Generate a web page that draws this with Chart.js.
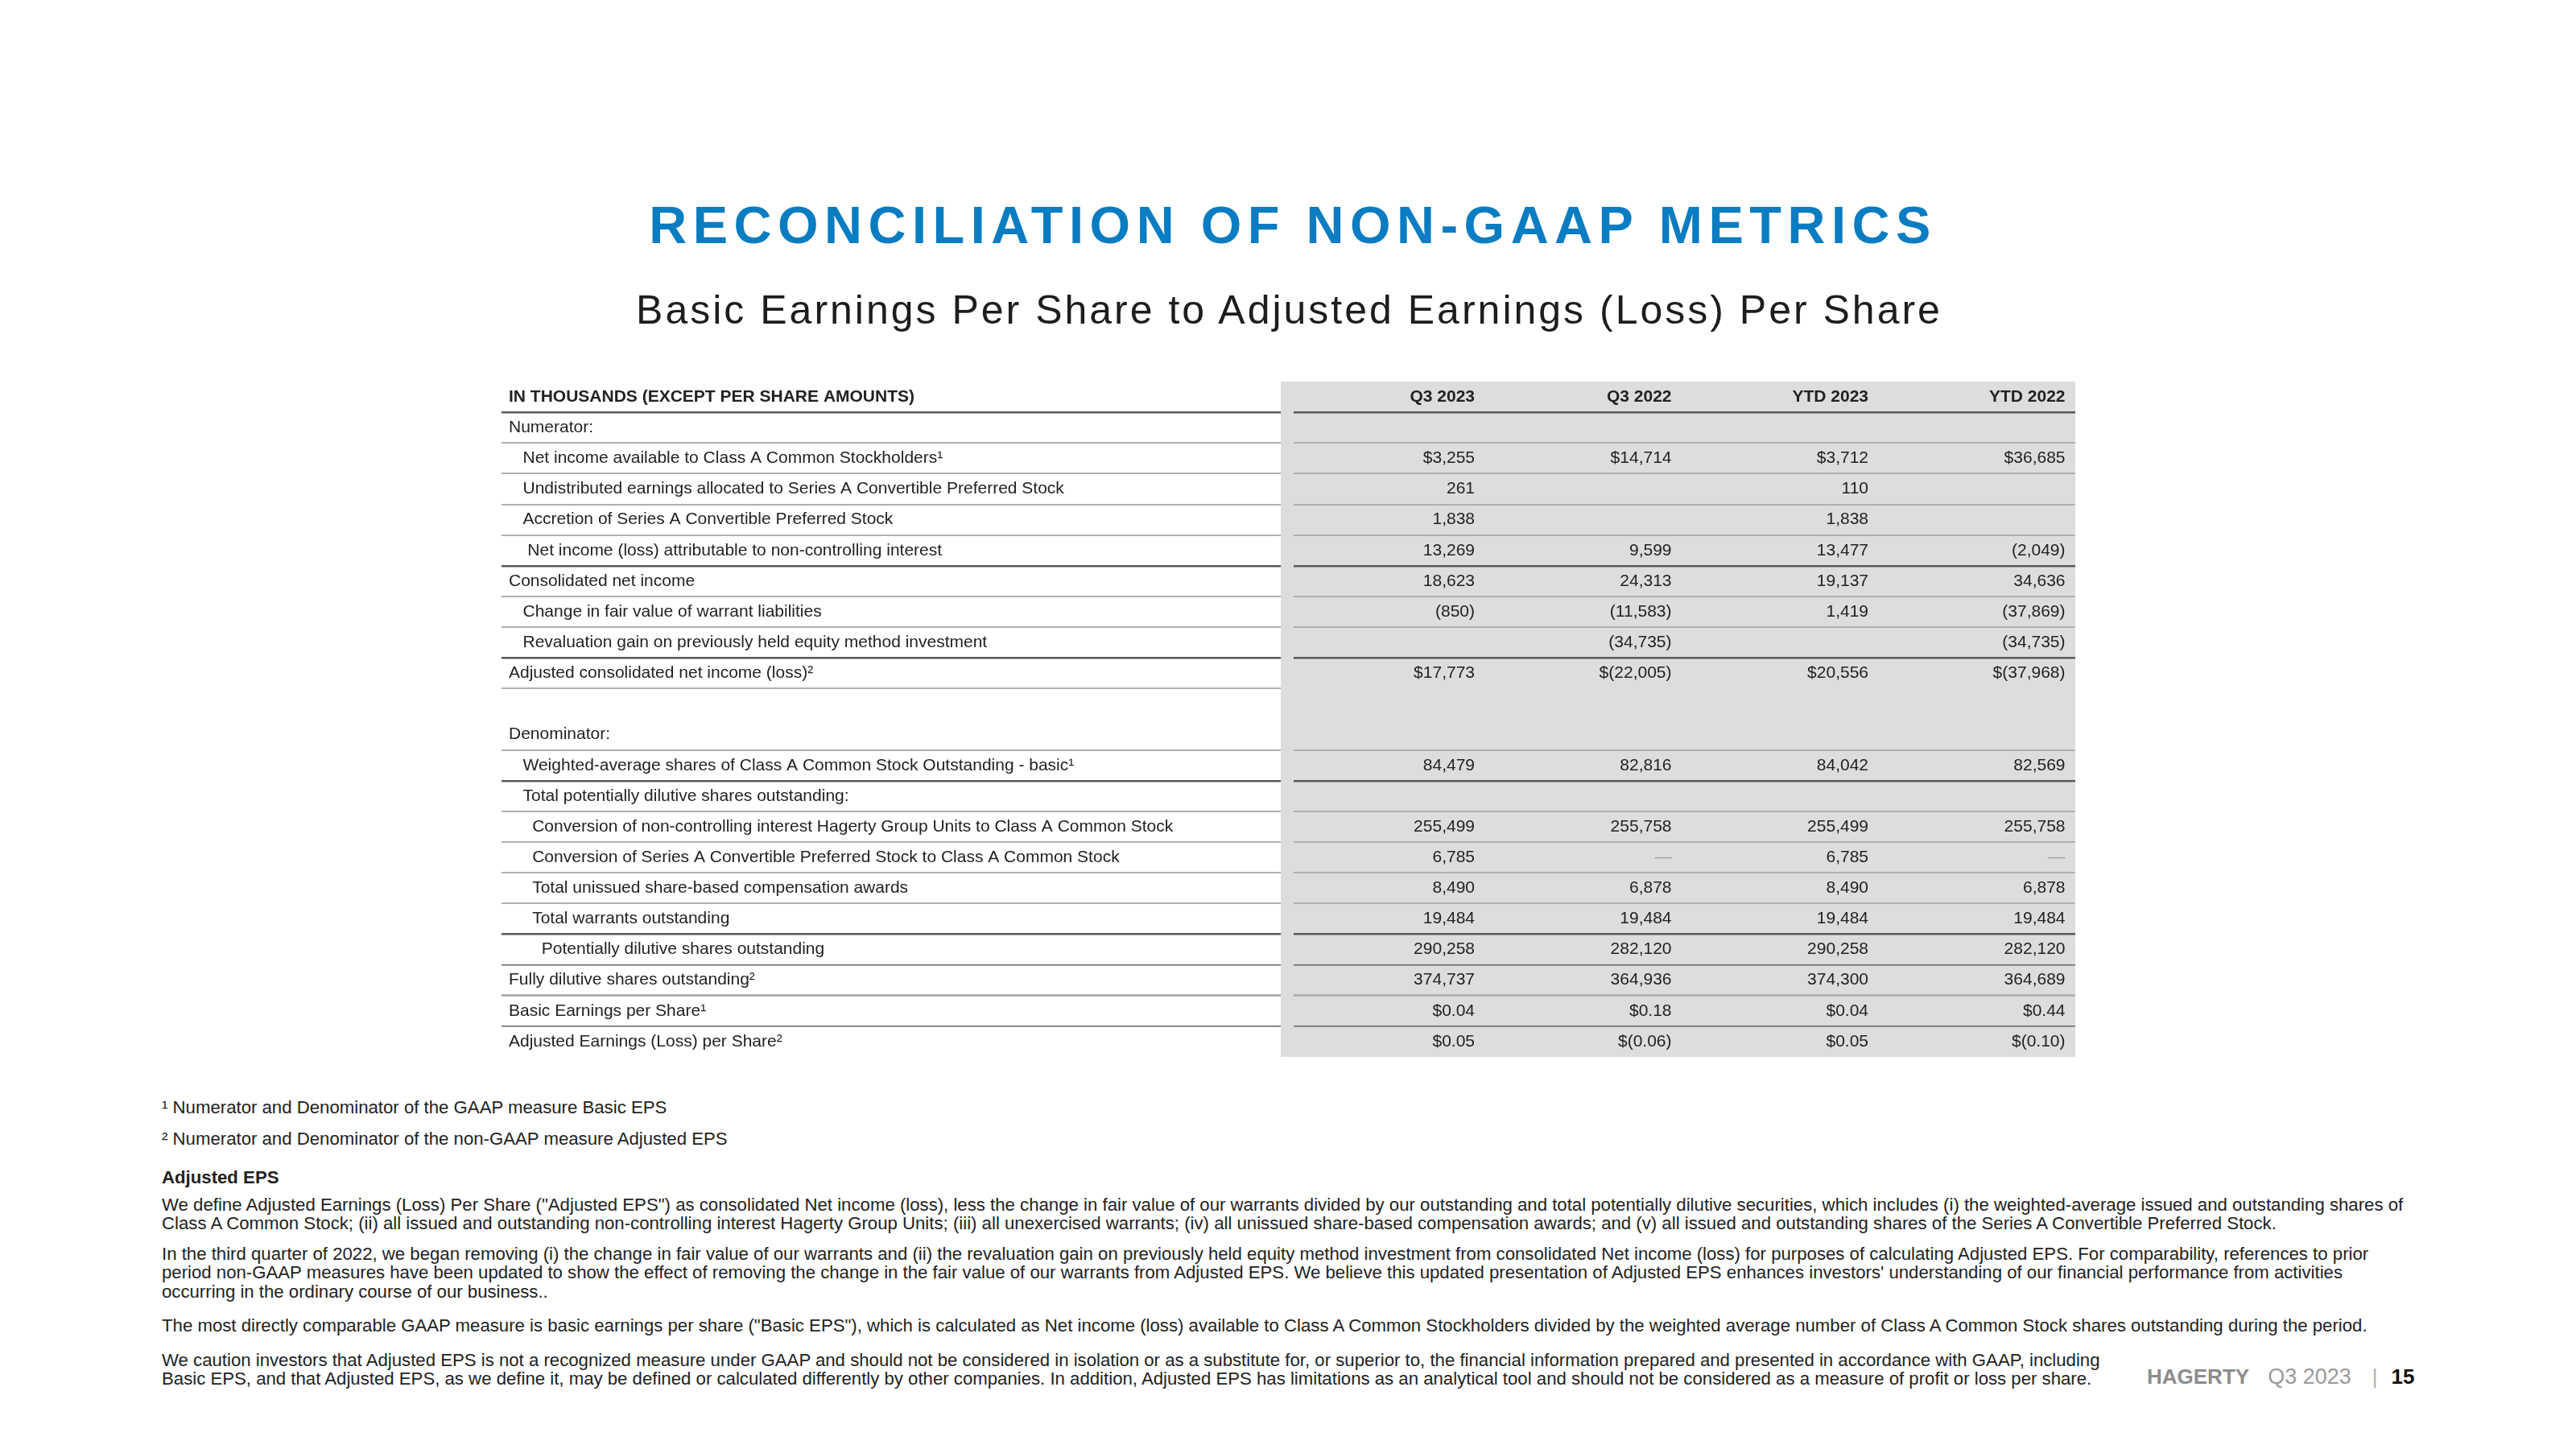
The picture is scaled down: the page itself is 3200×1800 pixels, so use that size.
<!DOCTYPE html>
<html>
<head>
<meta charset="utf-8">
<script src="https://cdn.jsdelivr.net/npm/chart.js@4.4.1/dist/chart.umd.min.js"></script>
<style>
  body { margin: 0; background: #fff; font-family: "Liberation Sans", Arial, sans-serif; color: #222; }
  #page { position: relative; width: 3200px; height: 1800px; overflow: hidden; background: #fff; }
  .abs { position: absolute; white-space: nowrap; }
  #title { left: 0; width: 3200px; top: 247px; text-align: center; font-size: 65px; line-height: 65px;
           font-weight: bold; letter-spacing: 7.5px; color: #0a7cc2; padding-left: 12px; box-sizing: border-box; }
  #subtitle { left: 0; width: 3200px; top: 360px; text-align: center; font-size: 50px; line-height: 50px;
              color: #1d1d1b; letter-spacing: 3px; padding-left: 3px; box-sizing: border-box; }
  #table { left: 613px; top: 454px; width: 1965px; height: 879px; }
  .note { left: 201px; font-size: 22.2px; line-height: 23.3px; color: #222; }
  #footer { left: 2667px; top: 1697px; font-size: 26px; line-height: 26px; }
</style>
</head>
<body>
<div id="page">
  <div id="title" class="abs">RECONCILIATION OF NON-GAAP METRICS</div>
  <div id="subtitle" class="abs">Basic Earnings Per Share to Adjusted Earnings (Loss) Per Share</div>

  <div id="table" class="abs"><canvas id="recChart"></canvas></div>

  <div class="abs note" style="top:1364px">¹ Numerator and Denominator of the GAAP measure Basic EPS</div>
  <div class="abs note" style="top:1403px">² Numerator and Denominator of the non-GAAP measure Adjusted EPS</div>
  <div class="abs note" style="top:1451px;font-weight:bold">Adjusted EPS</div>
  <div class="abs note" style="top:1485px">We define Adjusted Earnings (Loss) Per Share ("Adjusted EPS") as consolidated Net income (loss), less the change in fair value of our warrants divided by our outstanding and total potentially dilutive securities, which includes (i) the weighted-average issued and outstanding shares of<br>Class A Common Stock; (ii) all issued and outstanding non-controlling interest Hagerty Group Units; (iii) all unexercised warrants; (iv) all unissued share-based compensation awards; and (v) all issued and outstanding shares of the Series A Convertible Preferred Stock.</div>
  <div class="abs note" style="top:1546px">In the third quarter of 2022, we began removing (i) the change in fair value of our warrants and (ii) the revaluation gain on previously held equity method investment from consolidated Net income (loss) for purposes of calculating Adjusted EPS. For comparability, references to prior<br>period non-GAAP measures have been updated to show the effect of removing the change in the fair value of our warrants from Adjusted EPS. We believe this updated presentation of Adjusted EPS enhances investors' understanding of our financial performance from activities<br>occurring in the ordinary course of our business..</div>
  <div class="abs note" style="top:1635px">The most directly comparable GAAP measure is basic earnings per share ("Basic EPS"), which is calculated as Net income (loss) available to Class A Common Stockholders divided by the weighted average number of Class A Common Stock shares outstanding during the period.</div>
  <div class="abs note" style="top:1678px">We caution investors that Adjusted EPS is not a recognized measure under GAAP and should not be considered in isolation or as a substitute for, or superior to, the financial information prepared and presented in accordance with GAAP, including<br>Basic EPS, and that Adjusted EPS, as we define it, may be defined or calculated differently by other companies. In addition, Adjusted EPS has limitations as an analytical tool and should not be considered as a measure of profit or loss per share.</div>

  <div id="footer" class="abs"><b style="color:#8c8c8c">HAGERTY</b><span style="color:#9a9a9a;margin-left:23px;font-size:27px">Q3 2023</span><span style="color:#b0b0b0;margin-left:26px">|</span><b style="color:#111;margin-left:17px">15</b></div>
</div>

<script>
// columns of the table
const periods = ["Q3 2023", "Q3 2022", "YTD 2023", "YTD 2022"];
const headerLabel = "IN THOUSANDS (EXCEPT PER SHARE AMOUNTS)";

// row labels, leading spaces are the indents of the original
const rowLabels = [
    "Numerator:",
    "   Net income available to Class A Common Stockholders¹",
    "   Undistributed earnings allocated to Series A Convertible Preferred Stock",
    "   Accretion of Series A Convertible Preferred Stock",
    "    Net income (loss) attributable to non-controlling interest",
    "Consolidated net income",
    "   Change in fair value of warrant liabilities",
    "   Revaluation gain on previously held equity method investment",
    "Adjusted consolidated net income (loss)²",
    "",
    "Denominator:",
    "   Weighted-average shares of Class A Common Stock Outstanding - basic¹",
    "   Total potentially dilutive shares outstanding:",
    "     Conversion of non-controlling interest Hagerty Group Units to Class A Common Stock",
    "     Conversion of Series A Convertible Preferred Stock to Class A Common Stock",
    "     Total unissued share-based compensation awards",
    "     Total warrants outstanding",
    "       Potentially dilutive shares outstanding",
    "Fully dilutive shares outstanding²",
    "Basic Earnings per Share¹",
    "Adjusted Earnings (Loss) per Share²"
];

const q3_2023 = ["", "$3,255", "261", "1,838", "13,269", "18,623", "(850)", "", "$17,773", "", "",
    "84,479", "", "255,499", "6,785", "8,490", "19,484", "290,258", "374,737", "$0.04", "$0.05"];
const q3_2022 = ["", "$14,714", "", "", "9,599", "24,313", "(11,583)", "(34,735)", "$(22,005)", "", "",
    "82,816", "", "255,758", "—", "6,878", "19,484", "282,120", "364,936", "$0.18", "$(0.06)"];
const ytd_2023 = ["", "$3,712", "110", "1,838", "13,477", "19,137", "1,419", "", "$20,556", "", "",
    "84,042", "", "255,499", "6,785", "8,490", "19,484", "290,258", "374,300", "$0.04", "$0.05"];
const ytd_2022 = ["", "$36,685", "", "", "(2,049)", "34,636", "(37,869)", "(34,735)", "$(37,968)", "", "",
    "82,569", "", "255,758", "—", "6,878", "19,484", "282,120", "364,689", "$0.44", "$(0.10)"];

const FONT = '"Liberation Sans", Arial, sans-serif';
const GRAY_BG = "#dcdddd";

// rule drawn on the top edge of row i (0 = header row)
const rules = {
    1: "dark", 2: "gray", 3: "gray", 4: "gray", 5: "gray", 6: "dark", 7: "gray", 8: "gray", 9: "dark",
    10: "stub", 12: "gray", 13: "dark", 14: "gray", 15: "gray", 16: "gray", 17: "gray", 18: "dark",
    19: "thin", 20: "grayThick", 21: "thin"
};
const ruleStyle = {
    dark: ["#59595b", 2.5],
    gray: ["#afb0b1", 2],
    grayThick: ["#afb0b1", 3],
    thin: ["#636466", 1.5],
    stub: ["#afb0b1", 2]
};

function ruleOf(ctx, onChart) {
    const kind = rules[ctx.index];
    if (!kind || (onChart && kind === "stub")) return null;
    return ruleStyle[kind];
}

const cellPlugin = {
    id: "cells",
    beforeDraw(chart) {
        const {ctx, chartArea} = chart;
        ctx.save();
        ctx.fillStyle = GRAY_BG;
        ctx.fillRect(chartArea.left - 9, chartArea.top, chartArea.right - chartArea.left + 9, chartArea.bottom - chartArea.top);
        ctx.restore();
    },
    afterDraw(chart) {
        const {ctx, chartArea, scales: {x, y}} = chart;
        ctx.save();
        // small gap between the label rules and the shaded columns
        ctx.fillStyle = GRAY_BG;
        ctx.fillRect(chartArea.left - 9, chartArea.top, 16, chartArea.bottom - chartArea.top);

        const half = (x.getPixelForValue(1) - x.getPixelForValue(0)) / 2;
        const cols = [q3_2023, q3_2022, ytd_2023, ytd_2022];
        ctx.textAlign = "right";
        ctx.textBaseline = "middle";
        cols.forEach((col, c) => {
            const right = x.getPixelForValue(c) + half - 12.5;
            ctx.font = "bold 21px " + FONT;
            ctx.fillStyle = "#222";
            ctx.fillText(periods[c], right, y.getPixelForValue(0));
            ctx.font = "21px " + FONT;
            col.forEach((v, r) => {
                if (!v) return;
                ctx.fillStyle = v === "—" ? "#a0a0a0" : "#222";
                ctx.fillText(v, right, y.getPixelForValue(r + 1));
            });
        });
        ctx.restore();
    }
};

new Chart(document.getElementById("recChart"), {
    type: "bar",
    data: {
        labels: [headerLabel].concat(rowLabels),
        datasets: []
    },
    options: {
        indexAxis: "y",
        responsive: true,
        maintainAspectRatio: false,
        animation: false,
        events: [],
        layout: { padding: { left: 19, right: 0, top: 20, bottom: 20 } },
        plugins: { legend: { display: false }, tooltip: { enabled: false } },
        scales: {
            x: {
                type: "category",
                labels: periods,
                position: "top",
                offset: true,
                display: false
            },
            y: {
                type: "category",
                offset: true,
                grid: {
                    offset: true,
                    drawTicks: true,
                    tickLength: 977,
                    color: ctx => { const r = ruleOf(ctx, true); return r ? r[0] : "rgba(0,0,0,0)"; },
                    lineWidth: ctx => { const r = ruleOf(ctx, true); return r ? r[1] : 0; },
                    tickColor: ctx => { const r = ruleOf(ctx, false); return r ? r[0] : "rgba(0,0,0,0)"; },
                    tickWidth: ctx => { const r = ruleOf(ctx, false); return r ? r[1] : 0; }
                },
                border: { display: false },
                ticks: {
                    autoSkip: false,
                    crossAlign: "far",
                    padding: 0,
                    color: "#222",
                    font: ctx => ({ family: FONT, size: 21, weight: ctx.index === 0 ? "bold" : "normal" })
                },
                afterFit: scale => { scale.width = 968; }
            }
        }
    },
    plugins: [cellPlugin]
});
</script>
</body>
</html>
